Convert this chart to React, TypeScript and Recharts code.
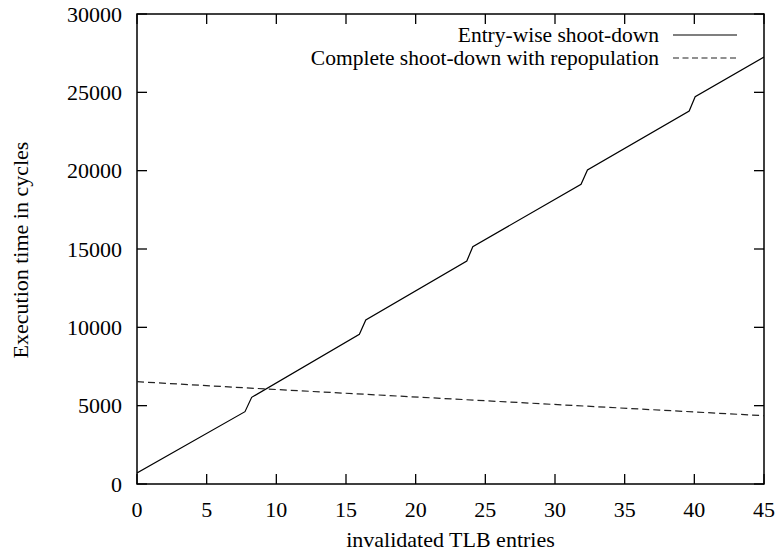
import { Legend, Line, LineChart, ReferenceArea, XAxis, YAxis } from "recharts";

// Cost of invalidating N TLB entries, per-entry shoot-down vs. full flush + refill.
const entryWiseX = [0, 7.75, 8.23, 15.96, 16.42, 23.67, 24.1, 31.87, 32.33, 39.63, 40.06, 45];
const entryWiseCycles = [700, 4615, 5534, 9555, 10468, 14234, 15147, 19130, 20043, 23809, 24723, 27250];

const completeX = [0, 9.3, 45];
const completeCycles = [6530, 6063, 4360];

const xTicks = [0, 5, 10, 15, 20, 25, 30, 35, 40, 45];
const yTicks = [0, 5000, 10000, 15000, 20000, 25000, 30000];

const SERIES_NAMES = ["Entry-wise shoot-down", "Complete shoot-down with repopulation"];

const entryWise = entryWiseX.map((x, i) => ({ x, cycles: entryWiseCycles[i] }));
const complete = completeX.map((x, i) => ({ x, cycles: completeCycles[i] }));

const W = 778;
const H = 554;
const MARGIN = { top: 14, right: 14, bottom: 0, left: 0 };
const Y_AXIS_W = 137;
const X_AXIS_H = 70;
const PLOT_TOP = MARGIN.top;
const PLOT_RIGHT = W - MARGIN.right;
const TICK_LEN = 10;
const FONT = "'Liberation Serif', 'Times New Roman', serif";
const FS = 22;

// gnuplot-style: labels outside, tick marks pointing inward on both sides
function XTick(props: any) {
  const { x, y, payload } = props;
  return (
    <g>
      <line x1={x} x2={x} y1={y} y2={y - TICK_LEN} stroke="#000" strokeWidth={1.3} />
      <line x1={x} x2={x} y1={PLOT_TOP} y2={PLOT_TOP + TICK_LEN} stroke="#000" strokeWidth={1.3} />
      <text x={x} y={y + 33} textAnchor="middle" fontFamily={FONT} fontSize={FS} fill="#000">
        {payload.value}
      </text>
    </g>
  );
}

function YTick(props: any) {
  const { x, y, payload } = props;
  const axisX = x + 15;
  return (
    <g>
      <line x1={axisX} x2={axisX + TICK_LEN} y1={y} y2={y} stroke="#000" strokeWidth={1.3} />
      <line x1={PLOT_RIGHT} x2={PLOT_RIGHT - TICK_LEN} y1={y} y2={y} stroke="#000" strokeWidth={1.3} />
      <text x={x} y={y + 7.5} textAnchor="end" fontFamily={FONT} fontSize={FS} fill="#000">
        {payload.value}
      </text>
    </g>
  );
}

function KeyBox() {
  const fs = 21.5;
  return (
    <svg width={480} height={52} style={{ display: "block" }}>
      <text x={379} y={18} textAnchor="end" fontFamily={FONT} fontSize={fs} fill="#000">
        {SERIES_NAMES[0]}
      </text>
      <line x1={393} x2={457} y1={11} y2={11} stroke="#000" strokeWidth={1.2} />
      <text x={379} y={41} textAnchor="end" fontFamily={FONT} fontSize={fs} fill="#000">
        {SERIES_NAMES[1]}
      </text>
      <line x1={393} x2={457} y1={34} y2={34} stroke="#222" strokeWidth={1.2} strokeDasharray="6 3.5" />
    </svg>
  );
}

export default function App() {
  return (
    <div style={{ position: "absolute", left: 0, top: 0, width: W, height: H, background: "#fff" }}>
      <LineChart width={W} height={H} margin={MARGIN}>
        <XAxis
          dataKey="x"
          type="number"
          domain={[0, 45]}
          ticks={xTicks}
          interval={0}
          height={X_AXIS_H}
          axisLine={false}
          tickLine={false}
          tickSize={0}
          tickMargin={0}
          tick={<XTick />}
          allowDataOverflow
          label={{
            value: "invalidated TLB entries",
            position: "center",
            dy: 20,
            fontFamily: FONT,
            fontSize: FS,
            fill: "#000",
          }}
        />
        <YAxis
          dataKey="cycles"
          type="number"
          domain={[0, 30000]}
          ticks={yTicks}
          interval={0}
          width={Y_AXIS_W}
          axisLine={false}
          tickLine={false}
          tickSize={0}
          tickMargin={15}
          tick={<YTick />}
          allowDataOverflow
          label={{
            value: "Execution time in cycles",
            angle: -90,
            position: "center",
            dx: -48,
            dy: 1,
            fontFamily: FONT,
            fontSize: FS,
            fill: "#000",
          }}
        />
        <ReferenceArea x1={0} x2={45} y1={0} y2={30000} fill="none" stroke="#000" strokeWidth={1.5} ifOverflow="visible" />
        <Line
          data={entryWise}
          dataKey="cycles"
          name={SERIES_NAMES[0]}
          stroke="#000"
          strokeWidth={1.2}
          dot={false}
          activeDot={false}
          type="linear"
          isAnimationActive={false}
        />
        <Line
          data={complete}
          dataKey="cycles"
          name={SERIES_NAMES[1]}
          stroke="#222"
          strokeWidth={1.2}
          strokeDasharray="7 4"
          dot={false}
          activeDot={false}
          type="linear"
          isAnimationActive={false}
        />
        <Legend
          layout="horizontal"
          verticalAlign="middle"
          align="center"
          content={() => <KeyBox />}
          wrapperStyle={{ left: 280, top: 24, width: 480, height: 52 }}
        />
      </LineChart>
    </div>
  );
}
